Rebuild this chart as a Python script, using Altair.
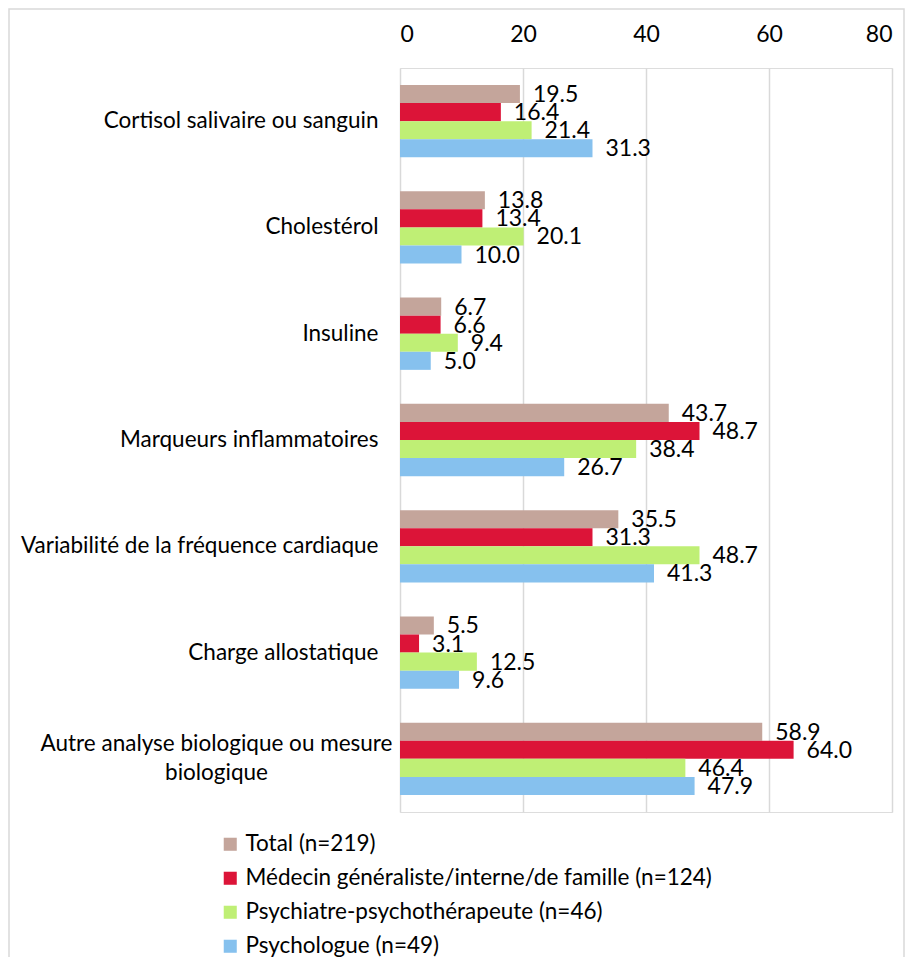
import altair as alt
import pandas as pd

categories = [
    "Cortisol salivaire ou sanguin",
    "Cholestérol",
    "Insuline",
    "Marqueurs inflammatoires",
    "Variabilité de la fréquence cardiaque",
    "Charge allostatique",
    "Autre analyse biologique ou mesure biologique",
]
series = [
    "Total (n=219)",
    "Médecin généraliste/interne/de famille (n=124)",
    "Psychiatre-psychothérapeute (n=46)",
    "Psychologue (n=49)",
]
total = [19.5, 13.8, 6.7, 43.7, 35.5, 5.5, 58.9]
medecin = [16.4, 13.4, 6.6, 48.7, 31.3, 3.1, 64.0]
psychiatre = [21.4, 20.1, 9.4, 38.4, 48.7, 12.5, 46.4]
psychologue = [31.3, 10.0, 5.0, 26.7, 41.3, 9.6, 47.9]
colors = ["#C4A59B", "#DC1438", "#BFEF75", "#86C1EE"]
x_ticks = [0, 20, 40, 60, 80]

rows = []
for s, vals in zip(series, [total, medecin, psychiatre, psychologue]):
    for c, v in zip(categories, vals):
        rows.append({"cat": c, "series": s, "value": v})
df = pd.DataFrame(rows)

FONT = "Lato"
FS = 22.5
FS_NUM = 23

LONG = "Autre analyse biologique ou mesure biologique"
IS_LONG = f"datum.value == '{LONG}'"
label_expr = (
    f"{IS_LONG} ? ['Autre analyse biologique ou mesure', 'biologique'] : datum.value"
)

y_enc = alt.Y(
    "cat:N",
    sort=categories,
    scale=alt.Scale(paddingInner=0.32, paddingOuter=0.16),
    axis=alt.Axis(
        title=None, domain=False, ticks=False, labelFontSize=FS, labelFont=FONT,
        labelLimit=500, labelExpr=label_expr, labelColor="#000000",
        labelLineHeight=29,
        labelPadding={"condition": {"test": IS_LONG, "value": 184}, "value": 22},
        labelAlign={"condition": {"test": IS_LONG, "value": "center"}, "value": "right"},
        labelOffset={"condition": {"test": IS_LONG, "value": -15}, "value": 0},
    ),
)
yoff = alt.YOffset("series:N", sort=series, scale=alt.Scale(paddingInner=0, paddingOuter=0))
x_enc = alt.X(
    "value:Q",
    scale=alt.Scale(domain=[0, 80]),
    axis=alt.Axis(
        orient="top", values=x_ticks, title=None, domain=False, ticks=False,
        labelFontSize=FS_NUM, labelFont=FONT, labelPadding=22, labelColor="#000000",
        gridColor="#D9D9D9", gridWidth=1.5,
    ),
)

base = alt.Chart(df).encode(y=y_enc, yOffset=yoff)

bars = base.mark_bar().encode(
    x=x_enc,
    color=alt.Color(
        "series:N",
        sort=series,
        scale=alt.Scale(domain=series, range=colors),
        legend=alt.Legend(
            title=None, orient="none", legendX=-181, legendY=765, direction="vertical",
            symbolType="square", symbolSize=170, symbolStrokeWidth=0,
            labelFontSize=FS, labelFont=FONT, labelColor="#000000",
            rowPadding=11, labelLimit=700, labelOffset=4,
        ),
    ),
)

labels = base.mark_text(align="left", baseline="middle", dx=13, dy=1, fontSize=FS_NUM, font=FONT, color="#000000").encode(
    x="value:Q",
    text=alt.Text("value:Q", format=".1f"),
)

frame = alt.Chart(alt.Data(values=[{}])).mark_rect(
    fill=None, stroke="#D9D9D9", strokeWidth=1.5
).encode(
    x=alt.value(-391), x2=alt.value(504), y=alt.value(-59), y2=alt.value(1000)
)

chart = alt.layer(frame, bars, labels).properties(
    width=492,
    height=744,
    autosize=alt.AutoSizeParams(type="none"),
    padding={"left": 392, "top": 60, "right": 13, "bottom": 145},
).configure_view(stroke=None).configure(background="white")

chart.save("out.html", embed_options={"renderer": "svg", "actions": False})
